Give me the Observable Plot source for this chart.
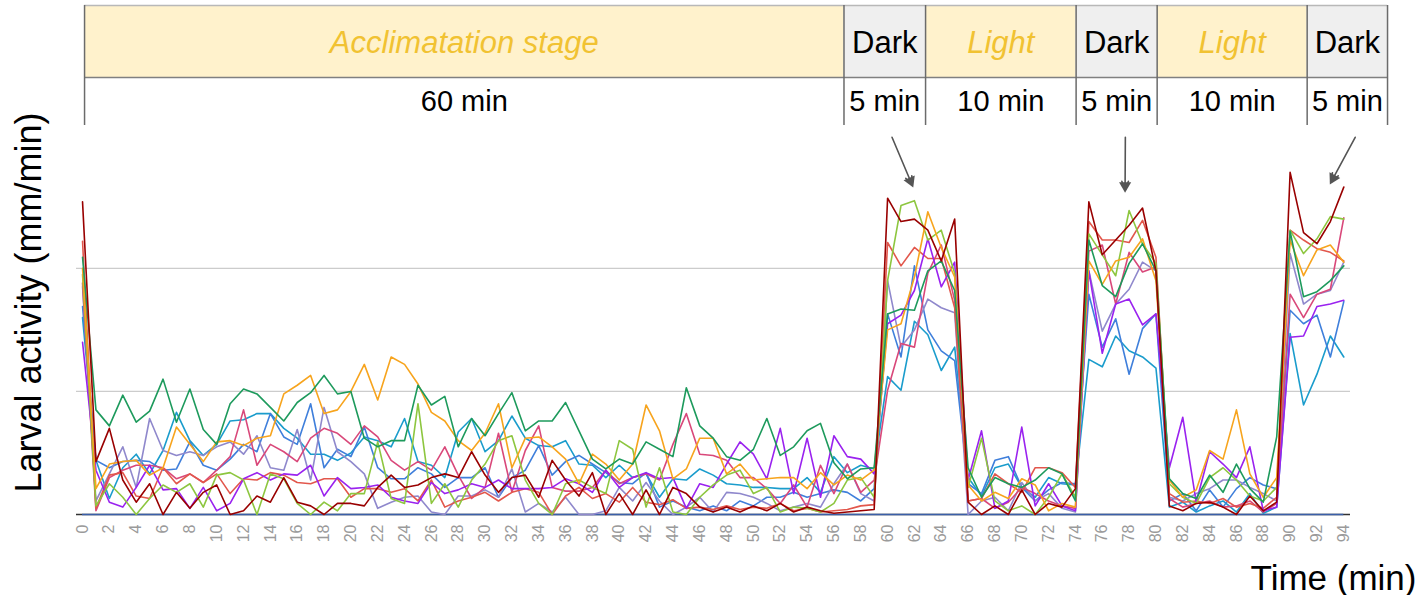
<!DOCTYPE html>
<html><head><meta charset="utf-8">
<script src="https://cdn.jsdelivr.net/npm/d3@7"></script>
<script src="https://cdn.jsdelivr.net/npm/@observablehq/plot@0.6"></script>
<style>
html,body{margin:0;padding:0;background:#fff;}
#wrap{position:relative;width:1419px;height:595px;overflow:hidden;}
#hdr{position:absolute;left:0;top:0;}
#main g[aria-label^="x-axis"] text{fill:#9a9a9a;font-size:16px;}
</style></head><body>
<div id="wrap"><div id="main"></div><div id="hdr"></div></div>
<script>
// ---------- data ----------
const minutes = [0,1,2,3,4,5,6,7,8,9,10,11,12,13,14,15,16,17,18,19,20,21,22,23,24,25,26,27,28,29,30,31,32,33,34,35,36,37,38,39,40,41,42,43,44,45,46,47,48,49,50,51,52,53,54,55,56,57,58,59,60,61,62,63,64,65,66,67,68,69,70,71,72,73,74,75,76,77,78,79,80,81,82,83,84,85,86,87,88,89,90,91,92,93,94];
const xTicks = [0,2,4,6,8,10,12,14,16,18,20,22,24,26,28,30,32,34,36,38,40,42,44,46,48,50,52,54,56,58,60,62,64,66,68,70,72,74,76,78,80,82,84,86,88,90,92,94];
const gridValues = [10, 20];

const larva1 = [16.0,
4.4,1.3,3.8,4.9,3.3,5.2,8.3,6.0,4.8,5.7,7.6,7.7,8.2,8.2,7.0,6.2,4.9,4.9,4.4,5.0,
6.3,6.0,5.5,7.8,4.3,4.0,3.0,6.7,7.8,5.1,6.0,8.0,6.2,5.6,5.5,6.0,4.1,4.0,3.0,4.0,3.0,
3.3,1.4,2.9,2.8,3.7,3.2,2.5,2.4,2.2,2.2,2.1,2.1,3.0,1.8,4.7,3.4,4.0,3.7,
11.2,10.1,15.7,14.6,11.7,13.6,
3.0,1.5,3.8,4.1,2.2,1.4,3.0,2.5,2.4,
12.6,12.0,14.5,13.3,12.8,11.9,
0.6,1.0,0.2,0.7,1.1,0.2,1.7,0.1,0.6,
14.7,8.9,11.4,14.5,12.8];
const larva2 = [16.9,
4.4,3.8,4.3,4.4,4.3,3.6,3.7,5.9,4.0,3.6,4.5,5.7,5.1,8.2,6.3,5.7,9.0,3.8,5.3,4.7,
7.1,3.8,2.9,2.9,3.8,3.3,2.2,3.0,3.0,3.8,1.4,3.0,3.6,5.6,3.2,4.3,4.8,4.1,3.4,2.6,2.5,
3.4,0.6,1.1,0.6,0.3,0.7,0.3,1.1,0.7,1.4,1.4,1.8,1.4,1.7,2.0,1.8,1.1,2.1,
16.3,12.8,20.2,15.0,13.3,12.5,
2.5,1.7,4.4,4.7,2.2,1.1,2.0,2.6,2.5,
17.9,13.6,15.9,11.4,15.1,16.3,
1.1,1.7,0.3,2.0,0.6,2.1,3.0,2.4,2.1,
16.6,15.5,16.2,12.8,17.3];
const larva3 = [18.5,
1.1,3.3,5.5,2.2,7.8,5.2,4.8,5.1,4.8,5.5,5.9,4.9,6.4,3.8,3.6,6.9,2.8,8.7,5.1,4.3,
3.3,0.5,1.0,1.4,1.5,0.2,0.0,1.5,1.5,2.0,1.4,3.7,0.2,0.9,0.2,1.4,0.0,0.0,0.3,2.2,1.1,
2.6,1.1,0.0,0.6,1.4,0.2,1.8,1.7,1.4,0.9,0.3,0.6,0.9,0.6,2.5,4.1,1.7,1.1,
19.0,13.6,15.0,17.5,16.8,16.4,
0.0,1.1,1.4,0.3,2.6,1.1,1.7,0.5,0.2,
19.8,14.9,17.1,18.3,20.5,19.8,
1.4,1.1,1.7,2.1,2.8,2.8,2.2,1.7,1.1,
21.2,17.1,17.9,18.2,20.5];
const larva4 = [18.8,
0.3,3.0,3.6,4.0,4.0,3.8,2.9,3.3,2.6,3.6,4.7,8.5,4.0,5.7,5.1,4.3,6.2,7.0,6.6,5.7,
7.2,6.3,4.4,3.6,4.3,3.6,5.5,3.2,1.3,2.2,6.6,1.8,5.2,7.2,2.2,1.9,1.9,2.2,3.6,2.5,3.0,
3.3,2.8,5.7,8.2,4.9,4.8,4.4,3.0,3.0,2.1,0.9,2.4,0.6,4.0,1.7,4.1,1.8,2.8,
10.1,13.9,13.6,19.6,21.9,17.4,
1.1,1.3,0.5,1.0,2.2,1.7,1.1,0.7,0.5,
21.4,21.9,17.1,21.3,19.7,20.1,
1.3,0.6,0.9,1.1,0.6,0.7,1.1,0.2,0.9,
17.9,16.0,17.9,18.3,24.1];
const larva5 = [22.2,
0.5,3.2,3.4,1.5,1.3,3.8,2.5,3.3,2.6,3.3,1.7,2.9,2.8,3.4,3.2,2.6,2.5,2.9,2.9,1.4,
2.1,2.1,1.8,2.1,1.1,2.8,0.6,1.1,1.4,1.8,1.1,1.8,2.1,1.8,0.0,1.5,2.2,1.3,1.7,1.0,2.2,
1.0,0.8,1.2,0.5,0.6,0.4,0.7,0.4,0.6,0.5,0.9,0.3,0.5,0.2,0.3,0.4,0.7,0.8,
22.1,20.2,21.7,20.8,20.8,16.8,
1.1,1.3,3.3,2.5,1.8,3.8,3.8,3.4,2.2,
23.8,22.3,22.3,22.1,23.9,20.9,
1.7,1.0,1.1,0.9,1.3,0.6,0.9,0.5,1.4,
23.1,22.3,21.6,21.3,20.6];
const larva6 = [14.0,
3.6,1.0,0.6,2.2,4.0,2.0,2.1,0.5,2.2,0.3,0.9,2.9,3.4,2.8,3.3,3.2,4.0,1.5,3.0,2.1,
2.2,2.4,1.4,1.1,0.9,2.6,1.7,2.0,2.5,2.2,2.8,2.1,2.1,2.1,2.2,2.9,2.5,1.8,3.6,2.2,3.0,
3.4,2.9,3.0,0.5,2.5,2.2,4.1,5.9,4.9,2.9,7.0,1.7,6.2,1.4,6.4,4.7,4.5,3.3,
15.5,16.2,18.2,22.4,18.5,20.5,
2.8,6.8,0.5,1.1,7.1,0.7,2.5,0.7,0.3,
19.8,13.1,17.1,17.5,15.4,16.3,
3.8,7.9,1.0,5.1,4.1,3.0,5.5,0.3,0.6,
14.4,14.5,16.9,17.1,17.4];
const larva7 = [19.5,
0.7,2.5,1.4,0.0,1.3,2.4,1.8,2.5,0.6,3.2,3.4,2.8,0.0,3.3,2.9,0.9,0.0,1.0,0.3,1.7,
1.7,5.9,1.3,0.9,9.0,0.9,2.5,0.6,2.8,4.1,6.0,6.4,2.8,0.9,0.0,2.5,2.8,2.2,1.7,6.0,5.3,
0.6,3.8,0.2,0.0,1.4,2.4,3.2,3.6,1.7,2.2,0.2,0.6,0.5,0.2,0.9,2.8,3.0,1.4,
19.0,25.1,25.5,22.3,23.1,19.6,
2.2,6.2,1.1,0.3,0.7,0.0,1.4,3.3,1.4,
22.8,21.1,19.4,24.7,22.0,20.4,
2.5,1.4,0.9,3.0,3.8,2.8,1.5,1.1,2.2,
23.1,21.2,22.4,24.2,24.0];
const larva8 = [20.0,
2.1,4.1,4.3,4.4,3.2,3.8,7.1,5.7,4.3,5.9,6.0,5.6,6.2,6.4,9.8,10.5,11.3,8.2,8.5,10.0,
12.2,9.3,12.8,12.2,10.6,8.3,7.6,6.0,5.2,6.6,9.0,3.8,6.2,6.3,5.5,4.5,2.5,4.9,4.1,2.8,4.1,
8.9,6.8,2.9,3.7,6.2,6.2,3.3,4.1,2.8,2.9,3.0,3.0,2.1,3.4,2.4,3.2,2.8,3.6,
15.0,15.5,19.3,24.6,21.7,19.3,
2.4,1.1,1.8,1.3,2.9,2.4,0.3,0.9,0.6,
20.6,18.7,20.6,20.9,22.4,19.0,
2.8,1.4,2.0,5.2,4.5,8.5,3.3,1.4,3.0,
22.3,19.4,21.5,21.9,20.5];
const larva9 = [20.9,
8.5,7.2,9.7,7.5,8.4,11.0,7.5,10.2,6.9,5.7,9.0,10.2,9.8,8.7,7.6,9.1,9.9,11.3,9.8,10.0,
6.2,5.5,6.0,6.0,10.5,8.9,9.6,5.5,7.8,6.4,8.2,9.9,6.8,7.6,7.6,9.1,6.8,4.5,3.7,4.5,4.1,
5.9,5.3,4.7,10.3,7.2,6.2,4.7,4.4,5.3,7.8,4.8,5.5,6.8,7.4,4.2,2.9,3.7,3.8,
16.3,16.7,16.6,19.8,20.6,18.2,
3.8,1.4,3.0,2.5,2.2,2.8,3.8,3.3,1.1,
22.3,18.6,17.7,20.4,22.0,19.8,
2.9,1.7,1.3,3.2,1.8,4.1,2.1,1.0,6.3,
23.0,17.7,18.1,19.0,20.2];
const larva10 = [25.4,
4.3,7.0,2.8,1.0,2.5,0.0,1.8,0.5,1.8,2.4,0.0,0.3,1.5,1.0,3.0,1.0,0.7,0.0,0.9,0.9,
0.7,2.2,3.2,2.2,2.4,3.0,3.3,3.0,5.1,3.2,1.8,3.0,3.2,1.4,4.4,2.8,1.5,3.4,0.0,1.7,0.0,
2.0,0.0,2.2,1.7,0.6,0.2,0.6,0.2,0.7,0.3,0.9,0.2,0.6,0.3,0.1,0.2,0.3,0.4,
25.7,23.8,24.0,23.1,20.6,24.0,
1.0,0.0,0.7,0.0,2.0,0.0,0.9,0.6,2.1,
25.4,21.1,22.3,23.5,24.9,19.8,
0.7,0.3,0.9,1.0,0.6,0.0,1.5,0.3,1.0,
27.8,22.9,22.0,23.8,26.6];

const seriesNames  = ["Larva 1","Larva 2","Larva 3","Larva 4","Larva 5","Larva 6","Larva 7","Larva 8","Larva 9","Larva 10"];
const seriesValues = [larva1, larva2, larva3, larva4, larva5, larva6, larva7, larva8, larva9, larva10];
const seriesColors = ["#1a9ccc","#3f7fdb","#8f88cc","#d9487a","#e2574c","#9a22ef","#8dc63f","#f7a41d","#1d9a5c","#990000"];
const zeroColor = "#3b5fa8";

// header (protocol) — stage edges expressed in minutes of the time axis
const stageNames = ["Acclimatation stage","Dark","Light","Dark","Light","Dark"];
const stageDurations = ["60 min","5 min","10 min","5 min","10 min","5 min"];
const stageEdges = [0.15, 56.75, 62.83, 74.05, 80.09, 91.27, 97.26];

// annotation arrows (minute, activity)
const arrowX1 = [60.33, 77.72, 94.85];
const arrowY1 = [30.65, 30.65, 30.65];
const arrowX2 = [61.84, 77.70, 93.05];
const arrowY2 = [26.75, 26.34, 27.0];

const yLabel = "Larval activity (mm/min)";
const xLabel = "Time (min)";

// ---------- build ----------
seriesValues.forEach((a, k) => { if (a.length !== minutes.length) throw new Error(seriesNames[k] + " has " + a.length); });
const rows = [];
seriesNames.forEach((name, k) => seriesValues[k].forEach((v, i) => rows.push({series: name, t: minutes[i], v})));

const FONT = '"Liberation Sans", Arial, Helvetica, sans-serif';
const W = 1419, H = 595, ML = 76, MR = 69, MT = 130, MB = 81;
const xDomain = [-0.45, 94.5];
const yDomain = [0, 31.2];
const pxPerX = (W - ML - MR) / (xDomain[1] - xDomain[0]);
const pxPerY = (H - MT - MB) / (yDomain[1] - yDomain[0]);

// arrows, with a filled head placed just behind the tip
const arrows = arrowX1.map((d, i) => {
  const sx = (arrowX2[i] - d) * pxPerX, sy = -(arrowY2[i] - arrowY1[i]) * pxPerY;
  const len = Math.hypot(sx, sy), back = 4.5;
  return {x1: d, y1: arrowY1[i], x2: arrowX2[i], y2: arrowY2[i],
    hx: arrowX2[i] - (sx / len) * back / pxPerX,
    hy: arrowY2[i] + (sy / len) * back / pxPerY,
    angle: Math.atan2(sx, -sy) * 180 / Math.PI};
});
const stages = stageNames.map((n, i) => ({name: n, duration: stageDurations[i], start: stageEdges[i], end: stageEdges[i + 1], dark: n === "Dark"}));

const main = Plot.plot({
  width: W, height: H,
  marginLeft: ML, marginRight: MR, marginTop: MT, marginBottom: MB,
  x: {domain: xDomain, ticks: xTicks, tickSize: 0, tickRotate: -90, tickPadding: 10, label: null, tickFormat: d => String(d)},
  y: {domain: yDomain, axis: null},
  color: {type: "ordinal", domain: seriesNames, range: seriesColors},
  style: {fontFamily: FONT, fontSize: "16px", background: "white", overflow: "visible"},
  marks: [
    Plot.ruleY(gridValues, {stroke: "#cccccc", strokeWidth: 1.3}),
    Plot.ruleY([0], {stroke: "#333333", strokeWidth: 1.3}),
    Plot.ruleY([0], {x1: minutes[0], x2: minutes[minutes.length - 1], stroke: zeroColor, strokeWidth: 1.6}),
    Plot.line(rows, {x: "t", y: "v", z: "series", stroke: "series", strokeWidth: 1.6, strokeLinejoin: "round"}),
    Plot.arrow(arrows, {x1: "x1", y1: "y1", x2: "x2", y2: "y2", stroke: "#555555", strokeWidth: 1.6, headLength: 9, headAngle: 40}),
    Plot.dot(arrows, {x: "hx", y: "hy", symbol: "triangle", r: 4.5, rotate: "angle", fill: "#555555", stroke: "none"}),
    Plot.text([yLabel], {text: d => d, frameAnchor: "left", textAnchor: "middle", rotate: -90, dx: -47, dy: -20, fontSize: 36, fill: "#000"}),
    Plot.text([xLabel], {text: d => d, frameAnchor: "bottom-right", textAnchor: "end", lineAnchor: "bottom", dx: 66, dy: 75, fontSize: 35, fill: "#000"})
  ]
});
document.getElementById("main").appendChild(main);

const mid = d => (d.start + d.end) / 2;
const header = Plot.plot({
  width: W, height: 130,
  marginLeft: ML, marginRight: MR, marginTop: 5, marginBottom: 5,
  x: {domain: xDomain, axis: null},
  y: {domain: [0, 120], axis: null},
  style: {fontFamily: FONT, background: "transparent", overflow: "visible"},
  marks: [
    Plot.rect(stages.filter(d => !d.dark), {x1: "start", x2: "end", y1: 48, y2: 120, fill: "#fff2cc"}),
    Plot.rect(stages.filter(d => d.dark), {x1: "start", x2: "end", y1: 48, y2: 120, fill: "#efefef"}),
    Plot.ruleY([120], {x1: stageEdges[0], x2: stageEdges[stageEdges.length - 1], stroke: "#b8b8b8", strokeWidth: 1.5}),
    Plot.ruleY([48], {x1: stageEdges[0], x2: stageEdges[stageEdges.length - 1], stroke: "#808080", strokeWidth: 1.5}),
    Plot.ruleX(stageEdges, {y1: 0, y2: 120, stroke: "#6b6b6b", strokeWidth: 1.5}),
    Plot.text(stages.filter(d => !d.dark), {x: mid, y: 82, text: "name", fontSize: 31, fontStyle: "italic", fill: "#f1c232"}),
    Plot.text(stages.filter(d => d.dark), {x: mid, y: 82, text: "name", fontSize: 31, fill: "#000"}),
    Plot.text(stages, {x: mid, y: 24, text: "duration", fontSize: 29, fill: "#000"})
  ]
});
document.getElementById("hdr").appendChild(header);
</script>
</body></html>
